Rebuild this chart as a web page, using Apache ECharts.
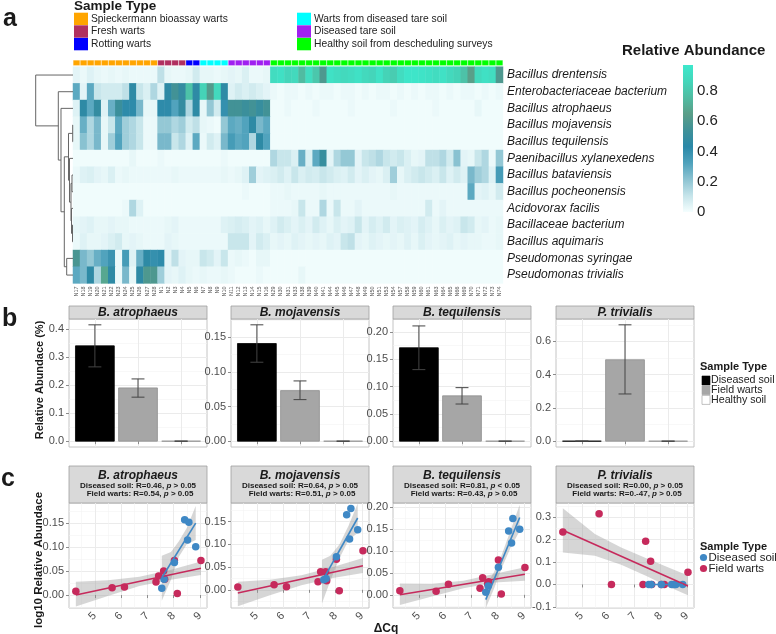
<!DOCTYPE html>
<html>
<head>
<meta charset="utf-8">
<script src="https://cdn.jsdelivr.net/npm/echarts@6/dist/echarts.min.js"></script>
<style>
  html, body { margin: 0; padding: 0; background: #fff; }
  #chart { width: 776px; height: 634px; }
</style>
</head>
<body>
<div id="chart"></div>
<script>
// ---------- panel a : heatmap data ----------
const groupNames = ['Spieckermann bioassay warts', 'Fresh warts', 'Rotting warts',
  'Warts from diseased tare soil', 'Diseased tare soil', 'Healthy soil from descheduling surveys']
const sampleIds = ['N17','N18','N19','N20','N21','N22','N23','N24','N25','N26','N27','N28',
  'N1','N2','N3','N4','N5','N6','N7','N8','N9','N10','N11','N12','N13','N14','N15','N16',
  'N29','N30','N31','N33','N38','N39','N40','N41','N44','N45','N46','N47','N48','N49','N50','N51',
  'N53','N54','N57','N58','N59','N60','N61','N63','N64','N65','N66','N69','N70','N71','N72','N73','N74']
const sampleGroup = [0,0,0,0,0,0,0,0,0,0,0,0, 1,1,1,1, 2,2, 3,3,3,3, 4,4,4,4,4,4,
  5,5,5,5,5,5,5,5,5,5,5,5,5,5,5,5,5,5,5,5,5,5,5,5,5,5,5,5,5,5,5,5,5]
const taxa = ['Bacillus drentensis', 'Enterobacteriaceae bacterium', 'Bacillus atrophaeus',
  'Bacillus mojavensis', 'Bacillus tequilensis', 'Paenibacillus xylanexedens', 'Bacillus bataviensis',
  'Bacillus pocheonensis', 'Acidovorax facilis', 'Bacillaceae bacterium', 'Bacillus aquimaris',
  'Pseudomonas syringae', 'Pseudomonas trivialis']

const abDrentensis = [0.04,0.02,0.05,0.03,0.02,0.03,0.02,0.03,0.02,0.02,0.02,0.02,
  0.12,0.03,0.02,0.02,0.03,0.08,0.03,0.03,0.02,0.03,0.04,0.03,0.06,0.02,0.02,0.03,
  0.9,0.92,0.86,0.88,0.75,0.9,0.8,0.6,0.93,0.9,0.88,0.9,0.93,0.88,0.86,0.93,0.85,0.82,0.9,0.95,
  0.95,0.94,0.92,0.9,0.93,0.88,0.85,0.78,0.65,0.88,0.92,0.9,0.6]
const abEntero = [0.3,0.04,0.3,0.1,0.08,0.08,0.08,0.12,0.45,0.1,0.06,0.15,
  0.05,0.45,0.55,0.48,0.78,0.45,0.85,0.62,0.88,0.45,0.05,0.08,0.06,0.08,0.06,0.04,
  0.02,0.01,0.02,0.02,0.01,0.02,0.01,0.02,0.02,0.01,0.02,0.02,0.01,0.02,0.01,0.02,0.02,0.01,
  0.02,0.01,0.02,0.01,0.02,0.02,0.01,0.02,0.01,0.02,0.02,0.01,0.02,0.01,0.02]
const abAtrophaeus = [0.05,0.45,0.3,0.48,0.05,0.28,0.52,0.42,0.42,0.25,0.03,0.03,
  0.42,0.42,0.32,0.48,0.15,0.45,0.03,0.2,0.08,0.4,0.55,0.55,0.52,0.55,0.5,0.55,
  0.01,0.01,0.02,0.01,0.01,0.01,0.02,0.01,0.01,0.01,0.01,0.02,0.01,0.01,0.01,0.01,0.01,0.02,
  0.01,0.01,0.01,0.01,0.01,0.02,0.01,0.01,0.01,0.01,0.01,0.03,0.01,0.01,0.01]
const abMojavensis = [0.03,0.28,0.15,0.25,0.03,0.1,0.3,0.18,0.15,0.1,0.02,0.02,
  0.2,0.2,0.15,0.18,0.08,0.12,0.03,0.02,0.01,0.2,0.3,0.28,0.32,0.45,0.25,0.3,
  0.01,0.01,0.01,0.01,0.01,0.01,0.01,0.01,0.01,0.01,0.01,0.01,0.01,0.01,0.01,0.01,0.01,0.01,
  0.01,0.01,0.01,0.01,0.01,0.01,0.01,0.01,0.01,0.01,0.01,0.01,0.01,0.01,0.01]
const abTequilensis = [0.03,0.22,0.15,0.25,0.03,0.18,0.32,0.18,0.15,0.1,0.02,0.02,
  0.25,0.25,0.1,0.15,0.05,0.3,0.02,0.08,0.05,0.25,0.35,0.3,0.32,0.15,0.45,0.32,
  0.01,0.01,0.01,0.01,0.01,0.01,0.01,0.01,0.01,0.01,0.01,0.01,0.01,0.01,0.01,0.01,0.01,0.01,
  0.01,0.01,0.01,0.01,0.01,0.01,0.01,0.01,0.01,0.01,0.01,0.01,0.01,0.01,0.01]
const abPaeni = [0.01,0.01,0.01,0.01,0.01,0.01,0.01,0.01,0.03,0.01,0.01,0.01,
  0.02,0.01,0.01,0.01,0.01,0.01,0.01,0.01,0.01,0.02,0.01,0.01,0.01,0.01,0.01,0.01,
  0.15,0.1,0.1,0.06,0.28,0.06,0.3,0.5,0.04,0.15,0.2,0.2,0.04,0.1,0.12,0.15,0.1,0.08,
  0.1,0.06,0.03,0.04,0.12,0.12,0.15,0.08,0.22,0.04,0.03,0.1,0.15,0.02,0.2]
const abBataviensis = [0.02,0.05,0.06,0.04,0.03,0.06,0.02,0.03,0.02,0.02,0.02,0.02,
  0.02,0.02,0.03,0.02,0.02,0.02,0.02,0.02,0.02,0.03,0.02,0.03,0.05,0.18,0.04,0.05,
  0.06,0.08,0.05,0.1,0.06,0.08,0.07,0.1,0.08,0.06,0.05,0.08,0.04,0.06,0.04,0.03,0.06,0.18,
  0.03,0.06,0.08,0.1,0.08,0.06,0.1,0.05,0.08,0.05,0.25,0.18,0.15,0.05,0.35]
const abPocheonensis = [0.01,0.01,0.01,0.01,0.01,0.01,0.01,0.01,0.01,0.01,0.01,0.01,
  0.01,0.01,0.01,0.01,0.01,0.01,0.01,0.01,0.01,0.01,0.01,0.01,0.02,0.01,0.01,0.01,
  0.02,0.02,0.03,0.02,0.02,0.02,0.02,0.03,0.02,0.02,0.02,0.02,0.02,0.02,0.02,0.02,0.02,0.03,
  0.02,0.02,0.02,0.02,0.02,0.02,0.02,0.02,0.02,0.02,0.3,0.04,0.05,0.03,0.08]
const abAcidovorax = [0.01,0.01,0.01,0.01,0.01,0.01,0.01,0.02,0.15,0.05,0.01,0.01,
  0.01,0.01,0.01,0.01,0.01,0.01,0.01,0.01,0.01,0.01,0.01,0.01,0.01,0.01,0.01,0.01,
  0.02,0.02,0.02,0.03,0.1,0.02,0.02,0.15,0.02,0.1,0.02,0.02,0.04,0.02,0.02,0.02,0.02,0.02,
  0.02,0.02,0.02,0.02,0.08,0.02,0.04,0.02,0.02,0.02,0.02,0.02,0.02,0.02,0.02]
const abBacillaceae = [0.03,0.04,0.05,0.03,0.03,0.04,0.03,0.03,0.02,0.02,0.02,0.02,
  0.02,0.03,0.04,0.02,0.02,0.02,0.02,0.02,0.02,0.05,0.06,0.07,0.06,0.04,0.05,0.03,
  0.05,0.08,0.06,0.04,0.06,0.04,0.08,0.05,0.03,0.06,0.04,0.05,0.1,0.04,0.07,0.05,0.08,0.04,
  0.06,0.05,0.04,0.07,0.05,0.03,0.06,0.04,0.05,0.1,0.08,0.03,0.04,0.02,0.03]
const abAquimaris = [0.02,0.05,0.03,0.03,0.04,0.06,0.08,0.03,0.04,0.03,0.02,0.02,
  0.02,0.04,0.03,0.02,0.02,0.02,0.02,0.02,0.02,0.02,0.1,0.1,0.1,0.04,0.08,0.06,
  0.03,0.04,0.03,0.05,0.04,0.03,0.04,0.03,0.05,0.04,0.1,0.12,0.04,0.03,0.05,0.04,0.03,0.04,
  0.03,0.05,0.03,0.06,0.04,0.03,0.04,0.05,0.03,0.04,0.03,0.03,0.02,0.02,0.03]
const abSyringae = [0.58,0.25,0.2,0.28,0.32,0.38,0.02,0.35,0.05,0.28,0.45,0.4,
  0.42,0.04,0.12,0.04,0.03,0.03,0.1,0.08,0.04,0.1,0.02,0.03,0.02,0.01,0.03,0.03,
  0.01,0.01,0.01,0.01,0.01,0.01,0.01,0.01,0.01,0.01,0.01,0.01,0.01,0.01,0.01,0.01,0.01,0.01,
  0.01,0.01,0.01,0.01,0.01,0.01,0.01,0.01,0.01,0.01,0.01,0.01,0.01,0.01,0.01]
const abTrivialis = [0.3,0.25,0.45,0.15,0.68,0.45,0.02,0.25,0.03,0.45,0.6,0.6,
  0.18,0.04,0.03,0.05,0.03,0.02,0.03,0.02,0.02,0.03,0.02,0.01,0.01,0.01,0.02,0.01,
  0.01,0.01,0.01,0.01,0.03,0.01,0.01,0.01,0.01,0.01,0.01,0.01,0.01,0.01,0.01,0.01,0.01,0.01,
  0.01,0.01,0.01,0.01,0.01,0.01,0.01,0.01,0.01,0.01,0.01,0.01,0.01,0.01,0.01]
const abundance = [abDrentensis, abEntero, abAtrophaeus, abMojavensis, abTequilensis, abPaeni,
  abBataviensis, abPocheonensis, abAcidovorax, abBacillaceae, abAquimaris, abSyringae, abTrivialis]
const scaleMax = 0.97
const scaleTicks = [0, 0.2, 0.4, 0.6, 0.8]

// row dendrogram: [child, child, height]; numbers are rows, 'mN' earlier merges
const dendroMerges = [
  [3, 4, 0.008], [6, 7, 0.027], [9, 10, 0.013], [8, 'm2', 0.04], ['m1', 'm3', 0.054],
  [5, 'm4', 0.094], ['m0', 'm5', 0.121], [11, 12, 0.169], ['m6', 'm7', 0.233],
  [2, 'm8', 0.322], [1, 'm9', 0.394], [0, 'm10', 1.0]
]

// ---------- panel b : bar chart ----------
const taxaShort = ['B. atrophaeus', 'B. mojavensis', 'B. tequilensis', 'P. trivialis']
const sampleTypes = ['Diseased soil', 'Field warts', 'Healthy soil']
const typePos = [1, 2, 3]
const barMean = [[0.34, 0.19, 0], [0.141, 0.073, 0], [0.171, 0.083, 0], [0, 0.49, 0]]
const barLow = [[0.265, 0.157, 0], [0.114, 0.060, 0], [0.131, 0.068, 0], [0, 0.284, 0]]
const barHigh = [[0.415, 0.222, 0], [0.168, 0.087, 0], [0.211, 0.098, 0], [0, 0.70, 0]]
const barTicks = [[0, 0.1, 0.2, 0.3, 0.4], [0, 0.05, 0.1, 0.15], [0, 0.05, 0.1, 0.15, 0.2], [0, 0.2, 0.4, 0.6]]

// ---------- panel c : correlation ----------
const cqDiseased = [7.55, 7.64, 8.03, 8.42, 8.53, 8.58, 8.84]
const cqField = [4.28, 5.66, 6.13, 7.33, 7.43, 7.62, 7.66, 8.03, 8.14, 9.04]
const logDiseased = [
  [0.014, 0.033, 0.068, 0.157, 0.115, 0.152, 0.101],
  [0.022, 0.025, 0.073, 0.165, 0.112, 0.179, 0.132],
  [0.006, 0.02, 0.063, 0.145, 0.118, 0.174, 0.149],
  [0, 0, 0, 0, 0, 0, 0]
]
const logField = [
  [0.008, 0.015, 0.017, 0.027, 0.040, 0.050, 0.033, 0.072, 0.003, 0.072],
  [0.006, 0.011, 0.007, 0.018, 0.040, 0.040, 0.020, 0.067, -0.002, 0.086],
  [0.009, 0.008, 0.024, 0.015, 0.039, 0.025, 0.03, 0.079, 0.002, 0.062],
  [0.234, 0.315, 0, 0, 0.193, 0.103, 0, 0, 0, 0.054]
]
const fitDiseased = [
  [[7.55, 0.036], [8.84, 0.150]],
  [[7.48, 0.018], [8.84, 0.158]],
  [[7.55, -0.011], [8.84, 0.176]],
  [[7.55, 0], [8.84, 0]]
]
const fitField = [
  [[4.28, 0.0], [9.04, 0.056]],
  [[4.28, -0.007], [9.04, 0.053]],
  [[4.28, 0.0], [9.04, 0.047]],
  [[4.28, 0.242], [9.04, -0.007]]
]
// confidence bands: [cq, lower, upper]
const ciDiseased = [
  [[7.55, -0.012, 0.082], [7.9, 0.032, 0.09], [8.2, 0.08, 0.112], [8.5, 0.106, 0.14], [8.84, 0.115, 0.186]],
  [[7.48, -0.03, 0.066], [7.8, 0.02, 0.075], [8.15, 0.07, 0.1], [8.5, 0.11, 0.142], [8.84, 0.125, 0.19]],
  [[7.55, -0.03, 0.02], [7.85, 0.012, 0.05], [8.15, 0.06, 0.09], [8.5, 0.108, 0.148], [8.84, 0.145, 0.205]],
  []
]
const ciField = [
  [[4.28, -0.024, 0.028], [5.5, -0.002, 0.031], [6.7, 0.019, 0.038], [7.9, 0.032, 0.053], [9.04, 0.042, 0.07]],
  [[4.28, -0.036, 0.018], [5.5, -0.012, 0.022], [6.7, 0.01, 0.032], [7.9, 0.026, 0.05], [9.04, 0.037, 0.07]],
  [[4.28, -0.023, 0.026], [5.5, -0.004, 0.025], [6.7, 0.015, 0.032], [7.9, 0.028, 0.048], [9.04, 0.032, 0.063]],
  [[4.28, 0.142, 0.34], [5.5, 0.128, 0.225], [6.5, 0.088, 0.165], [7.5, 0.035, 0.115], [8.3, -0.01, 0.075], [9.04, -0.048, 0.04]]
]
const corrDiseased = [['0.46', '>'], ['0.64', '>'], ['0.81', '<'], ['0.00', '>']]
const corrField = [['0.54', '>'], ['0.51', '>'], ['0.43', '>'], ['0.-47', '>']]
const cqTicks = [5, 6, 7, 8, 9]
const logTicks = [[0, 0.05, 0.1, 0.15], [0, 0.05, 0.1, 0.15], [0, 0.05, 0.1, 0.15, 0.2], [-0.1, 0, 0.1, 0.2, 0.3]]

// ---------- styles / layout ----------
const FONT = '"Liberation Sans", Arial, sans-serif'
const groupColors = ['#FFA500', '#B03060', '#0000FF', '#00FFFF', '#A020F0', '#00FF00']
const heatColors = ['#F4FEFE', '#C5E4EA', '#8CC3D2', '#4FA2BC', '#2A88A8', '#3F9198', '#5A9E88', '#50BCA2', '#44D6BA', '#3DE8CC']
const typeFill = ['#000000', '#A6A6A6', '#FFFFFF']
const typeStroke = ['#000000', '#8f8f8f', '#8f8f8f']
const BLUE = '#3F88C5'
const RED = '#C62A5C'
const panelLeft = [69, 231, 393, 556]
const panelW = 138
const bYRange = [[-0.0208, 0.4358, 5], [-0.0084, 0.1764, 4], [-0.0107, 0.2237, 5], [-0.035, 0.735, 4]]
const cYRange = [[-0.027, 0.192], [-0.04, 0.191], [-0.03, 0.209], [-0.105, 0.363]]
const bDigits = [1, 2, 2, 1]
const cDigits = [2, 2, 2, 1]

const grids = []
const xAxes = []
const yAxes = []
const series = []
const graphic = []

function addGrid (g) {
  grids.push(Object.assign({ containLabel: false, outerBoundsMode: 'none' }, g))
  return grids.length - 1
}
function text (x, y, str, font, extra) {
  graphic.push(Object.assign({
    type: 'text', x: x, y: y, silent: true,
    style: Object.assign({ text: str, font: font, fill: '#1a1a1a', textAlign: 'left', textVerticalAlign: 'middle' }, (extra && extra.style) || {})
  }, (extra && extra.el) || {}))
}

// ---- annotation bar ----
const gAnn = addGrid({ left: 73, top: 60, width: 430, height: 5.7 })
xAxes.push({ gridIndex: gAnn, type: 'category', data: sampleIds, show: false })
yAxes.push({ gridIndex: gAnn, type: 'value', min: 0, max: 1, show: false })
series.push({
  type: 'bar', xAxisIndex: xAxes.length - 1, yAxisIndex: yAxes.length - 1, barWidth: '100%', silent: true,
  data: sampleGroup.map(g => ({ value: 1, itemStyle: { color: groupColors[g], borderColor: 'rgba(255,255,255,0.35)', borderWidth: 0.5 } }))
})

// ---- heatmap ----
const gHeat = addGrid({ left: 73, top: 66.7, width: 430, height: 216.7 })
xAxes.push({
  gridIndex: gHeat, type: 'category', data: sampleIds,
  axisLine: { show: false }, axisTick: { show: false }, splitLine: { show: false },
  axisLabel: { interval: 0, rotate: 90, fontSize: 5.5, color: '#555', margin: 3 }
})
yAxes.push({
  gridIndex: gHeat, type: 'category', data: taxa, inverse: true, position: 'right',
  axisLine: { show: false }, axisTick: { show: false }, splitLine: { show: false },
  axisLabel: { fontStyle: 'italic', fontSize: 12, color: '#1a1a1a', margin: 4 }
})
const heatData = []
abundance.forEach((row, r) => row.forEach((v, c) => heatData.push([c, r, v])))
const heatSeriesIndex = series.length
series.push({
  type: 'heatmap', xAxisIndex: xAxes.length - 1, yAxisIndex: yAxes.length - 1,
  data: heatData, silent: true, progressive: 0, itemStyle: { borderWidth: 0 }
})

// ---- dendrogram ----
const nodeY = []
const nodeH = []
const dendroData = dendroMerges.map((m, i) => {
  const yOf = c => typeof c === 'number' ? c : nodeY[+c.slice(1)]
  const hOf = c => typeof c === 'number' ? 0 : nodeH[+c.slice(1)]
  const ya = yOf(m[0])
  const yb = yOf(m[1])
  nodeY[i] = (ya + yb) / 2
  nodeH[i] = m[2]
  return [m[2], ya, yb, hOf(m[0]), hOf(m[1])]
})
const gDen = addGrid({ left: 35.7, top: 66.7, width: 37.3, height: 216.7 })
xAxes.push({ gridIndex: gDen, type: 'value', min: 0, max: 1, inverse: true, show: false })
yAxes.push({ gridIndex: gDen, type: 'value', min: -0.5, max: taxa.length - 0.5, inverse: true, show: false })
series.push({
  type: 'custom', xAxisIndex: xAxes.length - 1, yAxisIndex: yAxes.length - 1, silent: true,
  data: dendroData, encode: { x: [0, 3, 4], y: [1, 2] },
  renderItem: function (params, api) {
    const h = api.value(0)
    const pts = [api.coord([api.value(3), api.value(1)]), api.coord([h, api.value(1)]),
      api.coord([h, api.value(2)]), api.coord([api.value(4), api.value(2)])]
    return { type: 'polyline', shape: { points: pts }, style: { stroke: '#666', lineWidth: 1, fill: null } }
  }
})

// ---- colour bar ----
const gBar = addGrid({ left: 683, top: 65, width: 10, height: 147 })
xAxes.push({ gridIndex: gBar, type: 'category', data: ['scale'], show: false })
yAxes.push({
  gridIndex: gBar, type: 'value', min: 0, max: scaleMax, position: 'right',
  axisLine: { show: false }, axisTick: { show: false }, splitLine: { show: false },
  axisLabel: { customValues: scaleTicks, fontSize: 15, color: '#222', margin: 4, formatter: v => String(v) }
})
const stops = heatColors.map((c, i) => ({ offset: 1 - i / (heatColors.length - 1), color: c })).reverse()
series.push({
  type: 'bar', xAxisIndex: xAxes.length - 1, yAxisIndex: yAxes.length - 1, barWidth: '100%', silent: true,
  data: [scaleMax], itemStyle: { color: new echarts.graphic.LinearGradient(0, 0, 0, 1, stops) }
})

// ---- panel b ----
const axisLabelStyle = { fontSize: 11, color: '#4d4d4d', margin: 5 }
const tickStyle = { length: 3, lineStyle: { color: '#8c8c8c' } }
const gridLine = { show: true, lineStyle: { color: '#ebebeb', width: 1 } }
const minorLine = { show: true, lineStyle: { color: '#f3f3f3', width: 0.6 } }

panelLeft.forEach((left, p) => {
  const gi = addGrid({ left: left, top: 319, width: panelW, height: 128, show: true, borderColor: '#c4c4c4', borderWidth: 1, backgroundColor: '#fff' })
  xAxes.push({
    gridIndex: gi, type: 'value', min: 0.4, max: 3.6, splitNumber: 3,
    axisLine: { show: false },
    axisLabel: { show: false, customValues: typePos },
    axisTick: Object.assign({ show: true, customValues: typePos }, tickStyle),
    splitLine: gridLine
  })
  yAxes.push({
    gridIndex: gi, type: 'value', min: bYRange[p][0], max: bYRange[p][1], splitNumber: bYRange[p][2],
    axisLine: { show: false },
    axisLabel: Object.assign({ customValues: barTicks[p], formatter: v => v.toFixed(bDigits[p]) }, axisLabelStyle),
    axisTick: Object.assign({ show: true, customValues: barTicks[p] }, tickStyle),
    splitLine: gridLine, minorTick: { show: false, splitNumber: 2 }, minorSplitLine: minorLine
  })
  const xi = xAxes.length - 1
  const yi = yAxes.length - 1
  series.push({
    type: 'custom', xAxisIndex: xi, yAxisIndex: yi, silent: true,
    data: typePos.map((x, i) => [x, barMean[p][i]]),
    renderItem: function (params, api) {
      const x = api.value(0)
      const a = api.coord([x - 0.45, 0])
      const b = api.coord([x + 0.45, api.value(1)])
      return {
        type: 'rect', shape: { x: a[0], y: b[1], width: b[0] - a[0], height: a[1] - b[1] },
        style: { fill: typeFill[params.dataIndex], stroke: typeStroke[params.dataIndex], lineWidth: 0.8 }
      }
    }
  })
  series.push({
    type: 'custom', xAxisIndex: xi, yAxisIndex: yi, silent: true,
    data: typePos.map((x, i) => [x, barLow[p][i], barHigh[p][i]]),
    renderItem: function (params, api) {
      const x = api.value(0)
      const lo = api.coord([x, api.value(1)])
      const hi = api.coord([x, api.value(2)])
      const w = api.size([0.3, 0])[0] / 2
      const st = { stroke: '#444', lineWidth: 1 }
      return {
        type: 'group', children: [
          { type: 'line', shape: { x1: lo[0], y1: lo[1], x2: hi[0], y2: hi[1] }, style: st },
          { type: 'line', shape: { x1: hi[0] - w, y1: hi[1], x2: hi[0] + w, y2: hi[1] }, style: st },
          { type: 'line', shape: { x1: lo[0] - w, y1: lo[1], x2: lo[0] + w, y2: lo[1] }, style: st }
        ]
      }
    }
  })
  // strip
  graphic.push({ type: 'rect', silent: true, shape: { x: left, y: 306, width: panelW, height: 13 }, style: { fill: '#d9d9d9', stroke: '#9e9e9e', lineWidth: 0.8 } })
  text(left + panelW / 2, 312.7, taxaShort[p], 'italic bold 12px ' + FONT, { style: { textAlign: 'center' } })
})

// ---- panel c ----
function bandRenderer (band) {
  return function (params, api) {
    if (params.dataIndex !== 0) return null
    const pts = band.map(r => api.coord([r[0], r[2]]))
    for (let i = band.length - 1; i >= 0; i--) pts.push(api.coord([band[i][0], band[i][1]]))
    return { type: 'polygon', shape: { points: pts }, style: { fill: 'rgba(153,153,153,0.4)' } }
  }
}

panelLeft.forEach((left, p) => {
  const gi = addGrid({ left: left, top: 503, width: panelW, height: 105, show: true, borderColor: '#c4c4c4', borderWidth: 1, backgroundColor: '#fff' })
  xAxes.push({
    gridIndex: gi, type: 'value', min: 4.02, max: 9.27, splitNumber: 5,
    axisLine: { show: false },
    axisLabel: Object.assign({ customValues: cqTicks, rotate: 45, formatter: v => String(Math.round(v)) }, axisLabelStyle, { margin: 6 }),
    axisTick: Object.assign({ show: true, customValues: cqTicks }, tickStyle),
    splitLine: gridLine, minorTick: { show: false, splitNumber: 2 }, minorSplitLine: minorLine
  })
  yAxes.push({
    gridIndex: gi, type: 'value', min: cYRange[p][0], max: cYRange[p][1], splitNumber: 5,
    axisLine: { show: false },
    axisLabel: Object.assign({ customValues: logTicks[p], formatter: v => v.toFixed(cDigits[p]) }, axisLabelStyle),
    axisTick: Object.assign({ show: true, customValues: logTicks[p] }, tickStyle),
    splitLine: gridLine, minorTick: { show: false, splitNumber: 2 }, minorSplitLine: minorLine
  })
  const xi = xAxes.length - 1
  const yi = yAxes.length - 1
  ;[ciField[p], ciDiseased[p]].forEach(band => {
    if (!band.length) return
    series.push({
      type: 'custom', xAxisIndex: xi, yAxisIndex: yi, silent: true,
      data: band, encode: { x: 0, y: [1, 2] }, renderItem: bandRenderer(band)
    })
  })
  series.push({
    type: 'line', xAxisIndex: xi, yAxisIndex: yi, silent: true, showSymbol: false,
    data: fitField[p], lineStyle: { color: RED, width: 1.6 }
  })
  series.push({
    type: 'line', xAxisIndex: xi, yAxisIndex: yi, silent: true, showSymbol: false,
    data: fitDiseased[p], lineStyle: { color: BLUE, width: 1.6 }
  })
  series.push({
    type: 'scatter', xAxisIndex: xi, yAxisIndex: yi, silent: true, symbolSize: 7.5,
    data: cqField.map((x, i) => [x, logField[p][i]]), itemStyle: { color: RED, opacity: 1 }
  })
  series.push({
    type: 'scatter', xAxisIndex: xi, yAxisIndex: yi, silent: true, symbolSize: 7.5,
    data: cqDiseased.map((x, i) => [x, logDiseased[p][i]]), itemStyle: { color: BLUE, opacity: 1 }
  })
  // strip with stats
  graphic.push({ type: 'rect', silent: true, shape: { x: left, y: 466, width: panelW, height: 37 }, style: { fill: '#d9d9d9', stroke: '#9e9e9e', lineWidth: 0.8 } })
  text(left + panelW / 2, 475.5, taxaShort[p], 'italic bold 12px ' + FONT, { style: { textAlign: 'center' } })
  const rich = {
    b: { fontWeight: 'bold', fontSize: 8, fontFamily: FONT, fill: '#1a1a1a' },
    i: { fontWeight: 'bold', fontStyle: 'italic', fontSize: 8, fontFamily: FONT, fill: '#1a1a1a' }
  }
  graphic.push({
    type: 'text', x: left + panelW / 2, y: 485.5, silent: true,
    style: { text: '{b|Diseased soil: R=' + corrDiseased[p][0] + ', }{i|p}{b| ' + corrDiseased[p][1] + ' 0.05}', rich: rich, textAlign: 'center', textVerticalAlign: 'middle' }
  })
  graphic.push({
    type: 'text', x: left + panelW / 2 + 2, y: 494, silent: true,
    style: { text: '{b|Field warts: R=' + corrField[p][0] + ', }{i|p}{b| ' + corrField[p][1] + ' 0.05}', rich: rich, textAlign: 'center', textVerticalAlign: 'middle' }
  })
})

// ---- legends, titles, labels ----
text(3, 19, 'a', 'bold 25px ' + FONT)
text(2, 319.5, 'b', 'bold 25px ' + FONT)
text(1, 479.5, 'c', 'bold 25px ' + FONT)

text(74, 6, 'Sample Type', 'bold 13.5px ' + FONT)
groupNames.forEach((name, g) => {
  const col = g < 3 ? 0 : 1
  const row = g % 3
  const x = col === 0 ? 74 : 297
  graphic.push({ type: 'rect', silent: true, shape: { x: x, y: 12.7 + row * 12.6, width: 14, height: 12.4 }, style: { fill: groupColors[g] } })
  text(x + 17, 19 + row * 12.6, name, '10.3px ' + FONT, { style: { fill: '#222' } })
})
text(622, 51, 'Relative Abundance', 'bold 15px ' + FONT)

text(40, 380, 'Relative Abundace (%)', 'bold 11px ' + FONT, { style: { textAlign: 'center' }, el: { rotation: Math.PI / 2 } })
text(39, 560, 'log10 Relative Abundace', 'bold 11.5px ' + FONT, { style: { textAlign: 'center' }, el: { rotation: Math.PI / 2 } })
text(386, 628.5, 'ΔCq', 'bold 12px ' + FONT, { style: { textAlign: 'center' } })

text(700, 367, 'Sample Type', 'bold 11px ' + FONT)
sampleTypes.forEach((name, i) => {
  graphic.push({ type: 'rect', silent: true, shape: { x: 702, y: 376 + i * 9.7, width: 8, height: 9 }, style: { fill: typeFill[i], stroke: i === 2 ? '#999' : typeFill[i], lineWidth: 0.6 } })
  text(711, 380.5 + i * 9.7, name, '10.7px ' + FONT, { style: { fill: '#222' } })
})
text(700, 547, 'Sample Type', 'bold 11px ' + FONT)
;[['Diseased soil', BLUE], ['Field warts', RED]].forEach((it, i) => {
  graphic.push({ type: 'circle', silent: true, shape: { cx: 703.5, cy: 557.5 + i * 11, r: 3.6 }, style: { fill: it[1] } })
  text(708.5, 557.5 + i * 11, it[0], '11.5px ' + FONT, { style: { fill: '#222' } })
})

const chart = echarts.init(document.getElementById('chart'), null, { renderer: 'canvas' })
chart.setOption({
  animation: false,
  backgroundColor: '#ffffff',
  textStyle: { fontFamily: FONT },
  grid: grids,
  xAxis: xAxes,
  yAxis: yAxes,
  visualMap: [{
    type: 'continuous', show: false, min: 0, max: scaleMax, seriesIndex: heatSeriesIndex,
    inRange: { color: heatColors }
  }],
  graphic: { elements: graphic },
  series: series
})
</script>
</body>
</html>
